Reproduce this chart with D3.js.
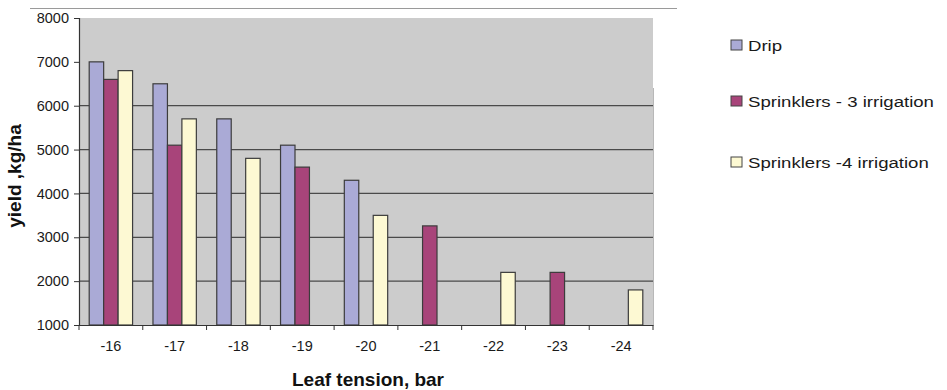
<!DOCTYPE html>
<html><head><meta charset="utf-8">
<script src="https://cdn.jsdelivr.net/npm/d3@7"></script>
<style>body{margin:0;background:#fff;} svg{display:block;font-family:"Liberation Sans",Arial,sans-serif;}</style>
</head><body><svg id="c" width="947" height="390"></svg>
<script>
const categories = ["-16","-17","-18","-19","-20","-21","-22","-23","-24"];
const seriesNames = ["Drip","Sprinklers - 3 irrigation","Sprinklers -4 irrigation"];
const drip = [7000, 6500, 5700, 5100, 4300, null, null, null, null];
const sprinklers3 = [6600, 5100, null, 4600, null, 3260, null, 2200, null];
const sprinklers4 = [6800, 5700, 4800, null, 3500, null, 2200, null, 1800];
const yTicks = [1000,2000,3000,4000,5000,6000,7000,8000];
const gridValues = [2000,3000,4000,5000,6000];
const colors = ["#aaaad6","#a8447a","#fdf9d3"];

const series = [drip, sprinklers3, sprinklers4];
const svg = d3.select("#c");
const L=79, R=653, T=18, B=325;
const x = d3.scaleBand().domain(categories).range([L,R]).paddingInner(0.32).paddingOuter(0.16);
const x0 = d3.scaleBand().domain(categories).range([L,R]);
const xs = d3.scaleBand().domain(d3.range(3)).range([0,x.bandwidth()]);
const y = d3.scaleLinear().domain([1000,8000]).range([B,T]);

svg.append("line").attr("x1",30).attr("x2",677).attr("y1",8.5).attr("y2",8.5).attr("stroke","#9a9a9a").attr("stroke-width",1);
svg.append("rect").attr("x",L).attr("y",T).attr("width",R-L).attr("height",B-T).attr("fill","#cccccc");
svg.append("line").attr("x1",R+0.5).attr("x2",R+0.5).attr("y1",88).attr("y2",B).attr("stroke","#b8b8b8");
svg.append("g").selectAll("line").data(gridValues).join("line")
  .attr("x1",L).attr("x2",R).attr("y1",d=>y(d)).attr("y2",d=>y(d))
  .attr("stroke","#4a4a4a").attr("stroke-width",1.3);
series.forEach((s,i)=>{
  svg.append("g").selectAll("rect").data(categories.map((c,j)=>({c,v:s[j]})).filter(d=>d.v!=null)).join("rect")
    .attr("x",d=>x(d.c)+xs(i)).attr("width",xs.bandwidth())
    .attr("y",d=>y(d.v)).attr("height",d=>B-y(d.v))
    .attr("fill",colors[i]).attr("stroke","#3c3c3c").attr("stroke-width",1.2);
});
const ya = svg.append("g").attr("transform",`translate(${L},0)`)
  .call(d3.axisLeft(y).tickValues(yTicks).tickSize(5).tickPadding(5).tickFormat(d3.format("d")));
ya.select(".domain").attr("stroke","#333").attr("stroke-width",1.2);
ya.selectAll(".tick line").attr("stroke","#333");
ya.selectAll("text").attr("font-size",14.5).attr("fill","#1a1a1a").attr("font-family","Liberation Sans, Arial, sans-serif");
const xa = svg.append("g").attr("transform",`translate(0,${B})`)
  .call(d3.axisBottom(x0).tickSize(0).tickPadding(16));
xa.select(".domain").attr("stroke","#333").attr("stroke-width",1.2);
xa.selectAll("text").attr("font-size",14.5).attr("fill","#1a1a1a").attr("font-family","Liberation Sans, Arial, sans-serif");
svg.append("g").selectAll("line").data(categories.concat(["end"])).join("line")
  .attr("x1",(d,i)=>L+i*x0.step()).attr("x2",(d,i)=>L+i*x0.step())
  .attr("y1",B).attr("y2",B+5).attr("stroke","#333");
svg.append("text").attr("x",368).attr("y",386).attr("text-anchor","middle")
  .attr("font-size",19).attr("font-weight","bold").attr("fill","#111").text("Leaf tension, bar");
svg.append("text").attr("transform","translate(21,176) rotate(-90)").attr("text-anchor","middle")
  .attr("font-size",19).attr("font-weight","bold").attr("fill","#111").text("yield ,kg/ha");
const lg = svg.append("g");
const ly = [45,101,162];
seriesNames.forEach((n,i)=>{
  lg.append("rect").attr("x",731).attr("y",ly[i]-5).attr("width",11).attr("height",10)
    .attr("fill",colors[i]).attr("stroke","#444").attr("stroke-width",1);
  lg.append("text").attr("transform",`translate(748,${ly[i]+6}) scale(1.2,1)`)
    .attr("font-size",15.5).attr("fill","#1a1a1a").text(n);
});
</script></body></html>
